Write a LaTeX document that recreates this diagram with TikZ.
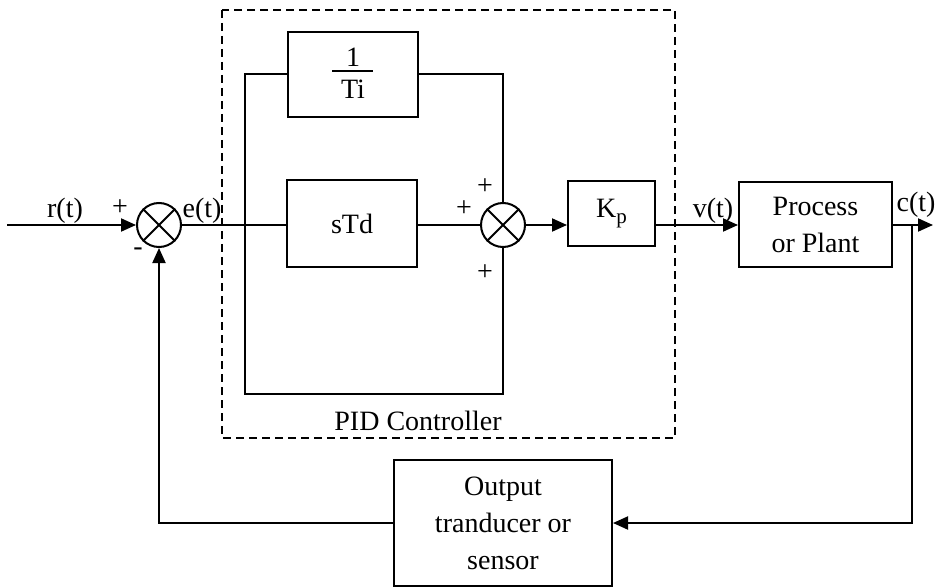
\documentclass[tikz,border=0pt]{standalone}
\usepackage{fontspec}
\setmainfont{Liberation Serif}
\usetikzlibrary{arrows.meta}
\begin{document}
\begin{tikzpicture}[x=1pt,y=-1pt,
  line width=2pt,
  every node/.style={font=\fontsize{28}{37}\selectfont, inner sep=0pt},
  blk/.style={draw, rectangle, line width=2pt, align=center},
  sumc/.style={draw, circle, minimum size=44pt, line width=2pt},
  arr/.style={-{Triangle[length=15pt,width=13pt]}},
  pidframe/.style={draw, dash pattern=on 8pt off 5pt, line width=1.6pt}
]
\useasboundingbox (0,0) rectangle (937,588);

% blocks
\node[blk, minimum width=130pt, minimum height=85pt] (ti) at (352.5,74.5) {};
\node (one) at (353,57) {1};
\node (tiT) at (353,89) {Ti};
\draw[line width=1.8pt] (332,71) -- (373,71);
\node[blk, minimum width=130pt, minimum height=87pt] (std) at (352,223.5) {sTd};
\node[blk, minimum width=87pt, minimum height=65pt] (kp) at (611.5,213.5) {K\raisebox{-6pt}{\fontsize{21}{21}\selectfont p}};
\node[blk, minimum width=153pt, minimum height=85pt] (pp) at (815.5,224.5) {Process\\or Plant};
\node[blk, minimum width=218pt, minimum height=126pt] (sen) at (503,523) {Output\\tranducer or\\sensor};

% summing junctions
\node[sumc] (s1) at (159,225) {};
\draw (s1.north west) -- (s1.south east) (s1.north east) -- (s1.south west);
\node[sumc] (s2) at (503,225) {};
\draw (s2.north west) -- (s2.south east) (s2.north east) -- (s2.south west);

% PID frame
\draw[pidframe] (222,10) rectangle (675,438);
\node (pidl) at (418,421) {PID Controller};

% coordinates
\coordinate (in) at (7,225);
\coordinate (bl) at (245,394);
\coordinate (out) at (933,225);
\coordinate (cj) at (912,225);

% connectors
\draw[arr] (in) -- (s1.west);
\draw (s1.east) -- (s1.east -| std.west);
\draw (ti.west) -| (bl) -| (s2.south);
\draw (ti.east) -| (s2.north);
\draw (s2.west -| std.east) -- (s2.west);
\draw[arr] (s2.east) -- (s2.east -| kp.west);
\draw[arr] (s2.east -| kp.east) -- (s2.east -| pp.west);
\draw[arr] (out -| pp.east) -- (out);
\draw[arr] (cj) |- (sen.east);
\draw[arr] (sen.west) -| (s1.south);

% labels
\node (rt) at (65,211) {r(t)};
\node (p1) at (120,208) {+};
\node (m1) at (138,252) {-};
\node (et) at (202,211) {e(t)};
\node (p2a) at (485,187) {+};
\node (p2b) at (464,209) {+};
\node (p2c) at (485,273) {+};
\node (vt) at (713,211) {v(t)};
\node (ct) at (916,205) {c(t)};
\end{tikzpicture}
\end{document}
